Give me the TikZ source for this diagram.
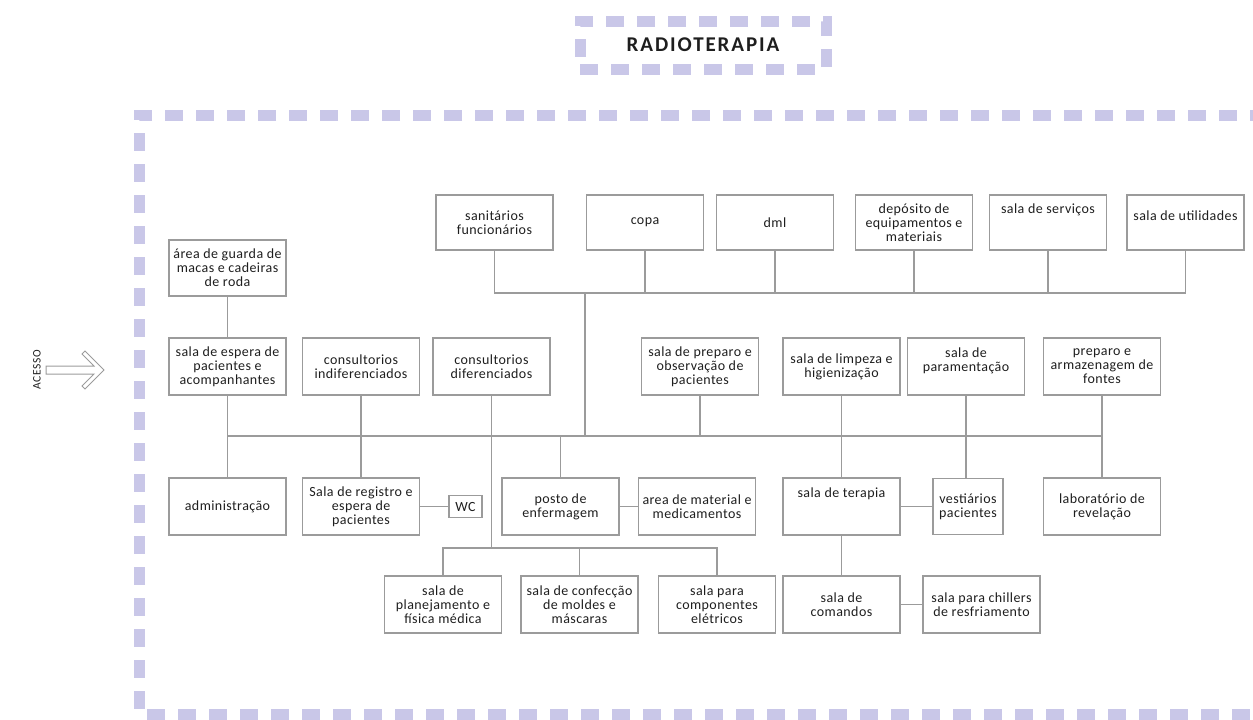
\documentclass[tikz,border=0pt]{standalone}
\usepackage{fontspec}
\setmainfont{Carlito}
\usetikzlibrary{positioning}
\definecolor{lavanda}{RGB}{201,199,232}
\definecolor{cinza}{RGB}{155,155,155}
\definecolor{texto}{RGB}{30,30,30}
\newcommand{\salafont}{\fontsize{14}{14}\selectfont\addfontfeature{LetterSpace=3}}
\newcommand{\titulofont}{\fontsize{21}{24}\selectfont\bfseries\addfontfeature{LetterSpace=9}}
\tikzset{
    sala/.style={
           rectangle,
           draw=cinza, line width=1.3pt,
           minimum width=117pt,
           minimum height=57pt,
           inner sep=1pt,
           align=center,
           text=texto,
           font=\salafont,
           },
    liga/.style={draw=cinza, line width=1.3pt},
    tracejado/.style={draw=lavanda, line width=11pt, dash pattern=on 18pt off 13pt},
}

\begin{document}
\begin{tikzpicture}[x=1pt,y=-1pt]
      \useasboundingbox (0,0) rectangle (1253,720);

      % MOLDURA E TITULO
      \draw[tracejado] (1268,115) -- (139,115) -- (139,714) -- (1268,714);
      \node[tracejado,
          minimum width=246pt,
          minimum height=48pt,
          text=texto,
          font=\titulofont] (titulo) at (703,45) {RADIOTERAPIA};

      % ACESSO
      \node[rotate=90, text=texto, font=\fontsize{11.5}{12}\selectfont\addfontfeature{LetterSpace=6}] (acesso) at (37,370) {ACESSO};
      \draw[cinza, line width=1pt]
          (46,366) -- (94,366) -- (82,354) -- (85,351) -- (104,370)
          -- (85,389) -- (82,386) -- (94,374) -- (46,374) -- cycle;

      % LINHA 2 (referencia)
      \node[sala] (espera) at (227.5,366.5)
      {sala de espera de\\pacientes e\\acompanhantes};

      \node[sala,
          above of=espera,
          node distance=98.5pt,
          minimum height=56pt] (guarda)
      {área de guarda de\\macas e cadeiras\\de roda};

      \node[sala, right of=espera, node distance=133.5pt] (indif)
      {consultorios\\indiferenciados};
      \node[sala, right of=indif, node distance=130.5pt] (dif)
      {consultorios\\diferenciados};
      \node[sala, right of=dif, node distance=208.5pt] (prep)
      {sala de preparo e\\observação de\\pacientes};
      \node[sala, right of=prep, node distance=141.5pt] (limp)
      {sala de limpeza e\\higienização};
      \node[sala, right of=limp, node distance=124.5pt] (param)
      {sala de\\paramentação\\~};
      \node[sala, right of=param, node distance=136pt] (arm)
      {preparo e\\armazenagem de\\fontes};

      % LINHA 1 (apoio)
      \node[sala,
          above of=dif,
          node distance=144pt,
          xshift=3pt,
          minimum height=55pt] (san)
      {sanitários\\funcionários};
      \node[sala, minimum height=55pt, right of=san, node distance=150.5pt] (copa) {copa};
      \node[sala, minimum height=55pt, right of=copa, node distance=130pt] (dml) {dml};
      \node[sala, minimum height=55pt, right of=dml, node distance=139pt] (dep)
      {depósito de\\equipamentos e\\materiais};
      \node[sala, minimum height=55pt, right of=dep, node distance=134pt] (serv)
      {sala de serviços\\~\\~};
      \node[sala, minimum height=55pt, right of=serv, node distance=137.5pt] (util)
      {sala de utilidades\\~};

      % LINHA 3
      \node[sala, below of=espera, node distance=140pt] (adm) {administração};
      \node[sala, below of=indif, node distance=140pt] (reg)
      {Sala de registro e\\espera de\\pacientes};
      \node[sala,
          right of=reg,
          node distance=104.5pt,
          minimum width=33pt,
          minimum height=22pt,
          inner sep=1pt] (wc) {WC};
      \node[sala,
          below of=dif,
          node distance=140pt,
          xshift=69pt] (posto)
      {posto de\\enfermagem};
      \node[sala, right of=posto, node distance=136.5pt] (mat)
      {area de material e\\medicamentos};
      \node[sala, below of=limp, node distance=140pt] (terapia)
      {sala de terapia\\~\\~};
      \node[sala,
          below of=param,
          node distance=140pt,
          xshift=2pt,
          minimum width=70pt,
          minimum height=56pt] (vest)
      {vestiários\\pacientes};
      \node[sala, below of=arm, node distance=140pt] (lab)
      {laboratório de\\revelação};

      % LINHA 4
      \node[sala,
          below of=posto,
          node distance=98pt,
          xshift=-117.5pt] (plan)
      {sala de\\planejamento e\\física médica};
      \node[sala, right of=plan, node distance=136.5pt] (conf)
      {sala de confecção\\de moldes e\\máscaras};
      \node[sala, right of=conf, node distance=137.5pt] (comp)
      {sala para\\componentes\\elétricos};
      \node[sala, below of=terapia, node distance=98pt] (coman)
      {sala de\\comandos};
      \node[sala, right of=coman, node distance=140pt] (chill)
      {sala para chillers\\de resfriamento};

      % barramentos
      \coordinate (barra1) at (585,293);
      \coordinate (barra2) at (585,436);
      \coordinate (barra3) at (491.5,548);

      % ligacoes
      \draw[liga] (san.south) |- (barra1) -| (util.south);
      \draw[liga] (copa.south) -- (copa.south |- barra1);
      \draw[liga] (dml.south) -- (dml.south |- barra1);
      \draw[liga] (dep.south) -- (dep.south |- barra1);
      \draw[liga] (serv.south) -- (serv.south |- barra1);
      \draw[liga] (barra1) -- (barra2);

      \draw[liga] (guarda.south) -- (espera.north);
      \draw[liga] (espera.south |- barra2) -- (arm.south |- barra2);
      \draw[liga] (espera.south) -- (adm.north);
      \draw[liga] (indif.south) -- (reg.north);
      \draw[liga] (dif.south) -- (barra3);
      \draw[liga] (prep.south) -- (prep.south |- barra2);
      \draw[liga] (posto.north) -- (posto.north |- barra2);
      \draw[liga] (limp.south) -- (terapia.north);
      \draw[liga] (param.south) -- (param.south |- vest.north);
      \draw[liga] (arm.south) -- (lab.north);

      \draw[liga] (reg) -- (wc);
      \draw[liga] (posto) -- (mat);
      \draw[liga] (terapia) -- (vest);

      \draw[liga] (plan.north) |- (barra3) -| (comp.north);
      \draw[liga] (conf.north) -- (conf.north |- barra3);
      \draw[liga] (terapia.south) -- (coman.north);
      \draw[liga] (coman) -- (chill);

\end{tikzpicture}
\end{document}
